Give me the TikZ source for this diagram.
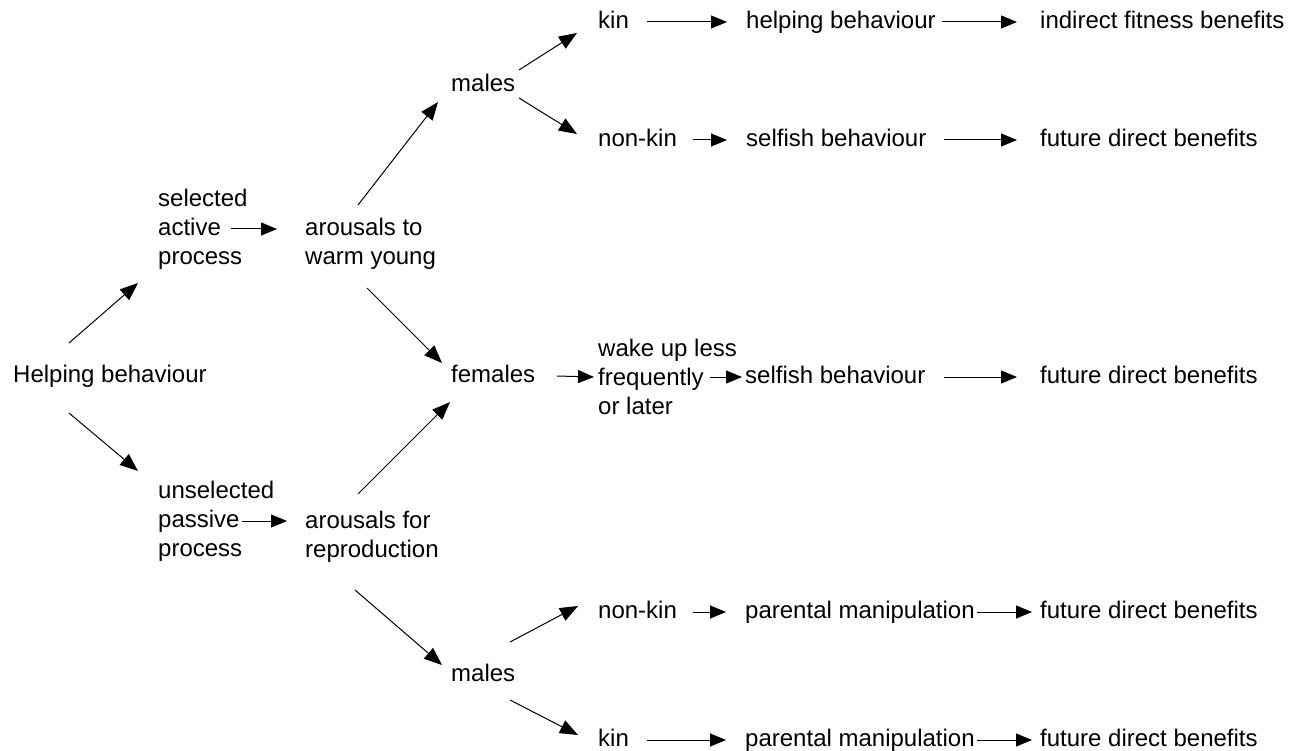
\documentclass[tikz,border=0pt]{standalone}
\usepackage{fontspec}
\setmainfont{Liberation Sans}
\usetikzlibrary{arrows.meta,calc}

\begin{document}
\begin{tikzpicture}[x=1pt,y=-1pt,
  txt/.style={anchor=west, inner sep=0pt, font=\fontsize{24}{29}\selectfont, text height=17.5pt, text depth=5pt},
  txtm/.style={anchor=west, inner sep=0pt, align=left, font=\fontsize{24}{29}\selectfont},
  arr/.style={line width=1pt, -{Triangle[length=16pt,width=13pt]}},
  darr/.style={line width=1pt, -{Triangle[length=18pt,width=14pt]}}]
  \useasboundingbox (0,0) rectangle (1289,751);
  % left part
  \node[txt]  (hb)    at (13,376)  {Helping behaviour};
  \node[txtm] (sel)   at (158,229) {selected\\active\\process};
  \node[txtm] (unsel) at (158,521) {unselected\\passive\\process};
  \node[txtm] (warm)  at (305,244) {arousals to\\warm young};
  \node[txtm] (repro) at (305,537) {arousals for\\reproduction};
  \node[txt]  (maleT) at (451,85)  {males};
  \node[txt]  (fem)   at (451,376) {females};
  \node[txt]  (maleB) at (451,675) {males};
  % right part
  \node[txt]  (kinT)    at (598,22)  {kin};
  \node[txt]  (nonkinT) at (598,140) {non-kin};
  \node[txtm] (wake)    at (598,377) {wake up less\\frequently\\or later};
  \node[txt]  (nonkinB) at (598,612) {non-kin};
  \node[txt]  (kinB)    at (598,740) {kin};
  \node[txt]  (helpT) at (746,22)  {helping behaviour};
  \node[txt]  (selfT) at (746,140) {selfish behaviour};
  \node[txt]  (selfF) at (745,377) {selfish behaviour};
  \node[txt]  (parN)  at (745,612) {parental manipulation};
  \node[txt]  (parK)  at (745,740) {parental manipulation};
  \node[txt]  (benT)  at (1040,22)  {indirect fitness benefits};
  \node[txt]  (benN)  at (1040,140) {future direct benefits};
  \node[txt]  (benF)  at (1040,377) {future direct benefits};
  \node[txt]  (benPN) at (1040,612) {future direct benefits};
  \node[txt]  (benPK) at (1040,740) {future direct benefits};
  % diagonal arrows
  \draw[darr] ($(hb.west)+(56,-33)$) -- ($(sel.west)+(-20,54)$);
  \draw[darr] ($(hb.west)+(56,37)$) -- ($(unsel.west)+(-20,-50)$);
  \draw[darr] ($(warm.west)+(53,-39)$) -- ($(maleT.west)+(-13,17)$);
  \draw[darr] ($(warm.west)+(62,44)$) -- ($(fem.west)+(-9,-13)$);
  \draw[darr] ($(repro.west)+(53,-43)$) -- ($(fem.west)+(-1,26)$);
  \draw[darr] ($(repro.west)+(50,53)$) -- ($(maleB.west)+(-9,-10)$);
  \draw[darr] ($(maleT.west)+(68,-15)$) -- ($(kinT.west)+(-21,11)$);
  \draw[darr] ($(maleT.west)+(68,13)$) -- ($(nonkinT.west)+(-21,-6)$);
  \draw[darr] ($(maleB.west)+(59,-33)$) -- ($(nonkinB.west)+(-20,-6)$);
  \draw[darr] ($(maleB.west)+(59,25)$) -- ($(kinB.west)+(-20,-5)$);
  % straight arrows
  \draw[arr] ($(sel.west)+(73,0)$) -- ($(sel.west -| warm.west)+(-28,0)$);
  \draw[arr] ($(unsel.west)+(84,0)$) -- ($(unsel.west -| repro.west)+(-18,0)$);
  \draw[arr] ($(fem.west)+(106,0)$) -- ($(wake.west)+(-4,0)$);
  \draw[arr] ($(wake.west)+(112,0)$) -- ($(selfF.west)+(-3,0)$);
  \draw[arr] ($(kinT.west)+(49,0)$) -- ($(helpT.west)+(-19,0)$);
  \draw[arr] ($(helpT.west)+(196,0)$) -- ($(benT.west)+(-23,0)$);
  \draw[arr] ($(nonkinT.west)+(95,0)$) -- ($(selfT.west)+(-19,0)$);
  \draw[arr] ($(selfT.west)+(198,0)$) -- ($(benN.west)+(-23,0)$);
  \draw[arr] ($(selfF.west)+(199,0)$) -- ($(benF.west)+(-23,0)$);
  \draw[arr] ($(nonkinB.west)+(95,0)$) -- ($(parN.west)+(-19,0)$);
  \draw[arr] ($(parN.west)+(232,0)$) -- ($(benPN.west)+(-8,0)$);
  \draw[arr] ($(kinB.west)+(49,0)$) -- ($(parK.west)+(-19,0)$);
  \draw[arr] ($(parK.west)+(232,0)$) -- ($(benPK.west)+(-8,0)$);
\end{tikzpicture}
\end{document}
